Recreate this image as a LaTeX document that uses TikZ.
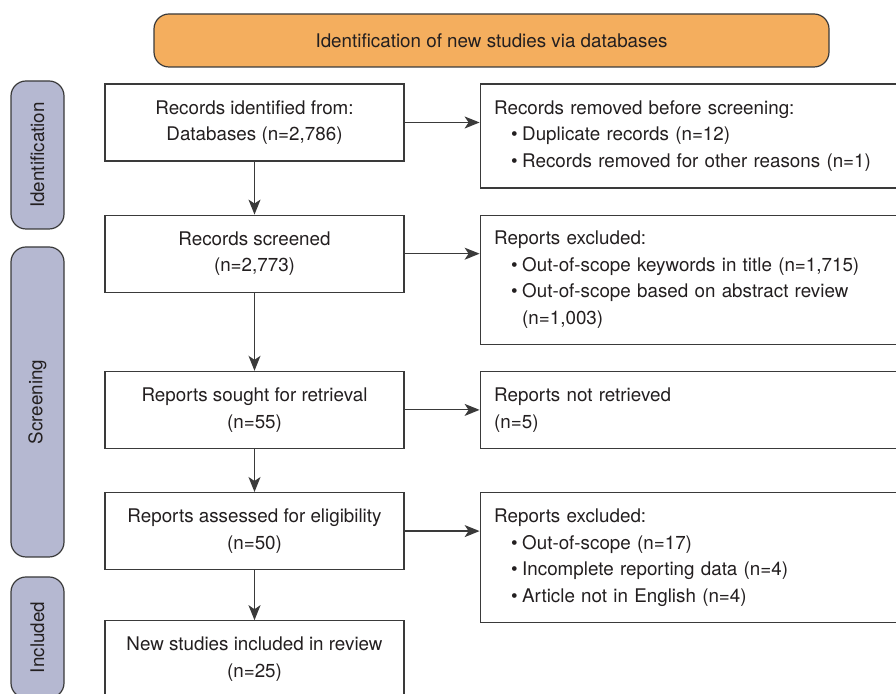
\documentclass[tikz,border=0pt]{standalone}
\usepackage{fontspec}
\setmainfont{TeX Gyre Heros}
\usepackage{xcolor}
\definecolor{prismaText}{HTML}{231F20}
\definecolor{prismaLine}{HTML}{3A3A3A}
\definecolor{prismaOrange}{HTML}{F4AE5E}
\definecolor{prismaStage}{HTML}{B5B8D1}
\usepackage{tikz}
\usetikzlibrary{arrows.meta,positioning}
\newcommand{\bitem}[1]{\hspace*{8.5pt}\makebox[5.5pt][l]{\textbullet}#1}
\tikzset{
    banner/.style={
        draw=prismaLine,
        fill=prismaOrange,
        rectangle,
        rounded corners=7.5pt,
        minimum width=337.5pt,
        minimum height=26.5pt,
        line width=0.6pt,
        text=prismaText,
        font=\fontsize{9.4pt}{13.25pt}\selectfont
    },
    stage/.style={
        draw=prismaLine,
        fill=prismaStage,
        rectangle,
        rotate=90,
        rounded corners=7.5pt,
        minimum height=26.5pt,
        line width=0.6pt,
        text=prismaText,
        font=\fontsize{9.4pt}{13.25pt}\selectfont
    },
    process/.style={
        draw=prismaLine,
        fill=white,
        rectangle,
        align=center,
        minimum width=149.5pt,
        minimum height=38.5pt,
        line width=0.6pt,
        text=prismaText,
        font=\fontsize{9.4pt}{13.25pt}\selectfont
    },
    excluded/.style={
        draw=prismaLine,
        fill=white,
        rectangle,
        align=left,
        text width=206pt,
        inner xsep=7pt,
        minimum height=38.5pt,
        line width=0.6pt,
        text=prismaText,
        font=\fontsize{9.4pt}{13.25pt}\selectfont
    },
    arrow/.style={
        -{Stealth[length=7.5pt,width=6pt,inset=2pt]},
        line width=0.6pt,
        color=prismaLine
    }
}

\begin{document}
\begin{tikzpicture}[x=0.5pt,y=-0.5pt]
    \useasboundingbox (0,0) rectangle (896,694);
    \clip (0,0) rectangle (896,694);

    % Header
    \node[banner] (header) at (491.5,40.5) {Identification of new studies via databases};

    % Stages
    \node[stage, minimum width=74pt] (stIdent) at (37.5,155) {Identification};
    \node[stage, minimum width=155pt] (stScreen) at (37.5,402) {Screening};
    \node[stage, minimum width=60.5pt] (stIncl) at (37.5,637.5) {Included};

    % Main flow
    \node[process] (records) at (254.5,122.5) {Records identified from:\\Databases (n=2,786)};
    \node[process, below=26.5pt of records] (screened) {Records screened\\(n=2,773)};
    \node[process, below=39pt of screened] (sought) {Reports sought for retrieval\\(n=55)};
    \node[process, below=21.5pt of sought] (assessed) {Reports assessed for eligibility\\(n=50)};
    \node[process, below=25pt of assessed] (included) {New studies included in review\\(n=25)};

    % Exclusions
    \node[excluded, minimum height=52pt, below right=0pt and 37.5pt of records.north east] (removed)
        {Records removed before screening:\\\bitem{Duplicate records (n=12)}\\\bitem{Records removed for other reasons (n=1)}};
    \node[excluded, minimum height=64.5pt, below right=0pt and 37.5pt of screened.north east] (exclScreen)
        {Reports excluded:\\\bitem{Out-of-scope keywords in title (n=1,715)}\\\bitem{Out-of-scope based on abstract review}\\\hspace*{14pt}(n=1,003)};
    \node[excluded, below right=0pt and 37.5pt of sought.north east] (notRetr)
        {Reports not retrieved\\(n=5)};
    \node[excluded, minimum height=65pt, below right=0pt and 37.5pt of assessed.north east] (exclElig)
        {Reports excluded:\\\bitem{Out-of-scope (n=17)}\\\bitem{Incomplete reporting data (n=4)}\\\bitem{Article not in English (n=4)}};

    % Arrows
    \draw[arrow] (records) -- (screened);
    \draw[arrow] (screened) -- (sought);
    \draw[arrow] (sought) -- (assessed);
    \draw[arrow] (assessed) -- (included);
    \draw[arrow] (records.east) -- (records.east -| removed.west);
    \draw[arrow] (screened.east) -- (screened.east -| exclScreen.west);
    \draw[arrow] (sought.east) -- (sought.east -| notRetr.west);
    \draw[arrow] (assessed.east) -- (assessed.east -| exclElig.west);
\end{tikzpicture}
\end{document}
